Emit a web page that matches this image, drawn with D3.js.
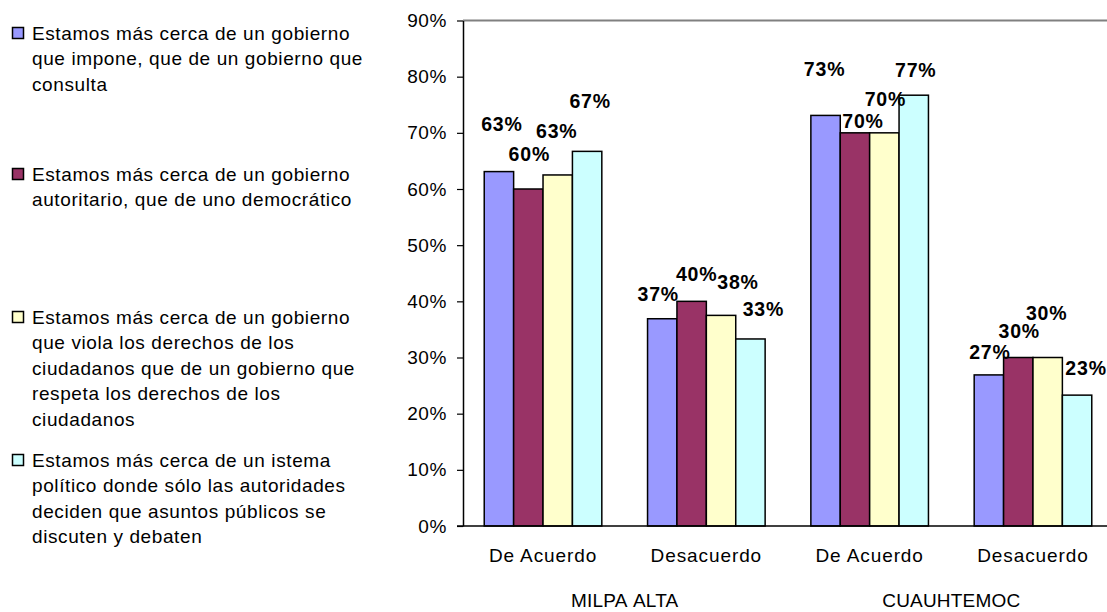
<!DOCTYPE html>
<html>
<head>
<meta charset="utf-8">
<script src="https://cdn.jsdelivr.net/npm/d3@7"></script>
<style>
  body { margin: 0; background: #fff; }
  svg { display: block; font-family: "Liberation Sans", Arial, sans-serif; }
  .legtext { font-size: 19px; letter-spacing: 0.6px; fill: #000; }
  .tick text { font-size: 19px; letter-spacing: 0.6px; fill: #000; }
  .cat { font-size: 19px; letter-spacing: 0.9px; }
  .grp { font-size: 19px; letter-spacing: 0.2px; word-spacing: 2px; }
  .lbl { font-size: 19.5px; font-weight: bold; letter-spacing: 0.8px; }
</style>
</head>
<body>
<div id="chart"></div>
<script>
// data
const categories = ["MA-acuerdo", "MA-desacuerdo", "CU-acuerdo", "CU-desacuerdo"];
const catLabels = ["De Acuerdo", "Desacuerdo", "De Acuerdo", "Desacuerdo"];
const groupLabels = ["MILPA ALTA", "CUAUHTEMOC"];
const seriesNames = [
  "Estamos más cerca de un gobierno que impone, que de un gobierno que consulta",
  "Estamos más cerca de un gobierno autoritario, que de uno democrático",
  "Estamos más cerca de un gobierno que viola los derechos de los ciudadanos que de un gobierno que respeta los derechos de los ciudadanos",
  "Estamos más cerca de un istema político donde sólo las autoridades deciden que asuntos públicos se discuten y debaten"
];
const legendLines = [
  ["Estamos más cerca de un gobierno", "que impone, que de un gobierno que", "consulta"],
  ["Estamos más cerca de un gobierno", "autoritario, que de uno democrático"],
  ["Estamos más cerca de un gobierno", "que viola los derechos de los", "ciudadanos que de un gobierno que", "respeta los derechos de los", "ciudadanos"],
  ["Estamos más cerca de un istema", "político donde sólo las autoridades", "deciden que asuntos públicos se", "discuten y debaten"]
];
const imponeValues = [63.1, 36.9, 73.1, 26.9];
const autoritarioValues = [60, 40, 70, 30];
const violaValues = [62.5, 37.5, 70, 30];
const sistemaValues = [66.7, 33.3, 76.7, 23.3];
const yTicks = [0, 10, 20, 30, 40, 50, 60, 70, 80, 90];

const seriesValues = [imponeValues, autoritarioValues, violaValues, sistemaValues];
const colors = ["#9999FF", "#993366", "#FFFFCC", "#CCFFFF"];

// label placement tweaks (dx, dy from bar top centre), mimicking the original overlap-avoidance
const labelShift = [
  [[3, -47], [-4, -25], [-1, -46], [1, -23]],
  [[1, -35], [5, -27], [8, -12], [1, -26]],
  [[-1, -44], [17, -33], [1, -34], [-1, -44]],
  [[3, -50], [13, -30], [2, -25], [9, -27]]
];

// layout
const WIDTH = 1107, HEIGHT = 612;
const AXIS_X = 463, TOP = 20.5, BOTTOM = 526, RIGHT = 1113;

const svg = d3.select("#chart").append("svg")
  .attr("width", WIDTH).attr("height", HEIGHT);

const xScale = d3.scaleBand()
  .domain(categories)
  .range([AXIS_X, RIGHT])
  .paddingInner(0.28)
  .paddingOuter(0.13);

const xSub = d3.scaleBand()
  .domain(d3.range(seriesValues.length))
  .range([0, xScale.bandwidth()]);

const yScale = d3.scaleLinear()
  .domain([0, 90])
  .range([BOTTOM, TOP]);

// top border of plot area
svg.append("line")
  .attr("x1", AXIS_X).attr("x2", WIDTH)
  .attr("y1", yScale(90)).attr("y2", yScale(90))
  .attr("stroke", "#808080").attr("stroke-width", 2);

// bars
seriesValues.forEach((vals, s) => {
  svg.append("g").selectAll("rect")
    .data(vals)
    .join("rect")
      .attr("x", (d, i) => xScale(categories[i]) + xSub(s))
      .attr("y", d => yScale(d))
      .attr("width", xSub.bandwidth())
      .attr("height", d => yScale(0) - yScale(d))
      .attr("fill", colors[s])
      .attr("stroke", "#000")
      .attr("stroke-width", 1.5);
});

// data labels
seriesValues.forEach((vals, s) => {
  svg.append("g").selectAll("text")
    .data(vals)
    .join("text")
      .attr("class", "lbl")
      .attr("x", (d, i) => xScale(categories[i]) + xSub(s) + xSub.bandwidth() / 2 + labelShift[s][i][0])
      .attr("y", (d, i) => yScale(d) + labelShift[s][i][1])
      .attr("dy", "0.35em")
      .attr("text-anchor", "middle")
      .text(d => Math.round(d) + "%");
});

// y axis
const yAxis = svg.append("g")
  .attr("transform", "translate(" + AXIS_X + ",0)")
  .call(d3.axisLeft(yScale).tickValues(yTicks).tickFormat(d => d + "%").tickSize(6).tickPadding(10).tickSizeOuter(0));
yAxis.select(".domain").attr("stroke", "#000").attr("stroke-width", 1.5);
yAxis.selectAll(".tick line").attr("stroke", "#000").attr("stroke-width", 1.2);
yAxis.attr("font-family", null).attr("font-size", null);

// x axis line
svg.append("line")
  .attr("x1", AXIS_X - 6).attr("x2", WIDTH)
  .attr("y1", yScale(0)).attr("y2", yScale(0))
  .attr("stroke", "#000").attr("stroke-width", 1.5);

// category labels
svg.append("g").selectAll("text")
  .data(categories)
  .join("text")
    .attr("class", "cat")
    .attr("x", d => xScale(d) + xScale.bandwidth() / 2)
    .attr("y", 555)
    .attr("dy", "0.35em")
    .attr("text-anchor", "middle")
    .text((d, i) => catLabels[i]);

// group labels (each spans two categories)
svg.append("g").selectAll("text")
  .data(groupLabels)
  .join("text")
    .attr("class", "grp")
    .attr("x", (d, i) => {
      const a = xScale(categories[i * 2]), b = xScale(categories[i * 2 + 1]) + xScale.bandwidth();
      return (a + b) / 2;
    })
    .attr("y", 600)
    .attr("dy", "0.35em")
    .attr("text-anchor", "middle")
    .text(d => d);

// legend
const legendTop = [33, 174, 317, 460];
const LINE_H = 25.5;
const legend = svg.append("g");
legendLines.forEach((lines, s) => {
  legend.append("rect")
    .attr("x", 12.5).attr("y", legendTop[s] - 5.5)
    .attr("width", 11).attr("height", 11)
    .attr("fill", colors[s]).attr("stroke", "#000").attr("stroke-width", 1.5);
  legend.append("text")
    .attr("class", "legtext")
    .selectAll("tspan")
    .data(lines)
    .join("tspan")
      .attr("x", 32)
      .attr("y", (d, i) => legendTop[s] + i * LINE_H)
      .attr("dy", "0.35em")
      .text(d => d);
});
</script>
</body>
</html>
